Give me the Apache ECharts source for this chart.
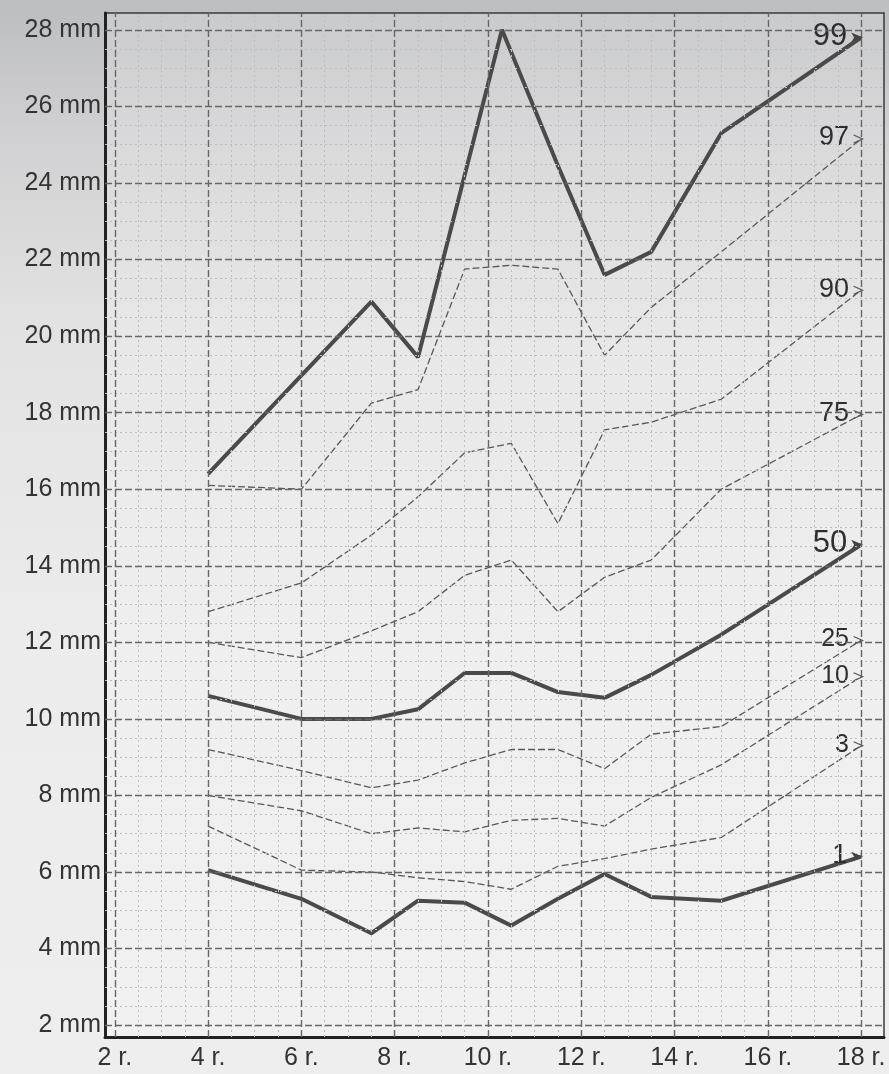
<!DOCTYPE html>
<html>
<head>
<meta charset="utf-8">
<script src="https://cdn.jsdelivr.net/npm/echarts@6/dist/echarts.min.js"></script>
<style>
  html, body { margin: 0; padding: 0; }
  #main { width: 889px; height: 1074px; }
</style>
</head>
<body>
<div id="main"></div>
<script>
// wiek (lata) w punktach pomiaru
const ages = [4, 6, 7.5, 8.5, 9.5, 10.5, 11.5, 12.5, 13.5, 15, 18];
const ages99 = [4, 7.5, 8.5, 10.3, 11.5, 12.5, 13.5, 15, 18];

// centyle (mm)
const p99 = [16.4, 20.9, 19.45, 28.0, 24.45, 21.6, 22.2, 25.3, 27.8];
const p97 = [16.1, 16.0, 18.25, 18.6, 21.75, 21.85, 21.75, 19.5, 20.75, 22.2, 25.15];
const p90 = [12.8, 13.55, 14.8, 15.8, 16.95, 17.2, 15.1, 17.55, 17.75, 18.35, 21.2];
const p75 = [12.0, 11.6, 12.3, 12.8, 13.75, 14.15, 12.8, 13.7, 14.15, 16.0, 17.95];
const p50 = [10.6, 10.0, 10.0, 10.25, 11.2, 11.2, 10.7, 10.55, 11.15, 12.2, 14.55];
const p25 = [9.2, 8.65, 8.2, 8.4, 8.85, 9.2, 9.2, 8.7, 9.6, 9.8, 12.05];
const p10 = [8.0, 7.6, 7.0, 7.15, 7.05, 7.35, 7.4, 7.2, 7.95, 8.8, 11.1];
const p3 = [7.2, 6.05, 6.0, 5.85, 5.75, 5.55, 6.15, 6.35, 6.6, 6.9, 9.3];
const p1 = [6.05, 5.3, 4.4, 5.25, 5.2, 4.6, 5.3, 5.95, 5.35, 5.25, 6.4];

// opisy osi
const xTicks = [2, 4, 6, 8, 10, 12, 14, 16, 18];
const yTicks = [2, 4, 6, 8, 10, 12, 14, 16, 18, 20, 22, 24, 26, 28];

const FONT = '"Liberation Sans", Arial, sans-serif';

// siatka pomocnicza co 0.5
const minorX = [];
for (let v = 2.5; v < 18.5; v += 0.5) if (v % 2 !== 0) minorX.push(v);
const minorY = [];
for (let v = 2.5; v < 28.4; v += 0.5) if (v % 2 !== 0) minorY.push(v);

const majorStyle = { color: '#676767', width: 1.4, type: [7, 3] };
const minorStyle = { color: '#bdbdbd', width: 1, type: [2, 3] };

const gridLines = []
    .concat(minorX.map(v => ({ xAxis: v, lineStyle: minorStyle })))
    .concat(minorY.map(v => ({ yAxis: v, lineStyle: minorStyle })))
    .concat(xTicks.map(v => ({ xAxis: v, lineStyle: majorStyle })))
    .concat(yTicks.map(v => ({ yAxis: v, lineStyle: majorStyle })));

function buildData(xs, ys, name, thick, fontSize) {
    return xs.map((x, i) => {
        const item = { value: [x, ys[i]] };
        if (i === xs.length - 1) {
            if (thick) {
                item.symbol = 'path://M0,0L12,5L0,10L3,5Z';
                item.symbolSize = [12, 10];
                item.symbolOffset = [-4, 0];
                item.itemStyle = { color: '#444' };
            } else {
                item.symbol = 'path://M0,0L10,5L0,10';
                item.symbolSize = [9, 8];
                item.symbolOffset = [-3, 0];
                item.itemStyle = { color: 'rgba(0,0,0,0)', borderColor: '#555', borderWidth: 1.2 };
            }
            item.label = {
                show: true,
                position: 'left',
                distance: 4,
                offset: [0, -1],
                formatter: name,
                fontSize: fontSize,
                fontFamily: FONT,
                color: '#2e2e2e'
            };
        }
        return item;
    });
}

function centile(name, xs, ys, thick, fontSize) {
    return {
        name: name,
        type: 'line',
        symbol: 'none',
        showSymbol: true,
        z: thick ? 4 : 3,
        lineStyle: thick
            ? { color: '#4a4a4a', width: 4 }
            : { color: '#585858', width: 1.3, type: [7, 3] },
        data: buildData(xs, ys, name, thick, fontSize)
    };
}

var myChart = echarts.init(document.getElementById('main'));

var option = {
    animation: false,
    backgroundColor: {
        type: 'linear', x: 0, y: 0, x2: 0, y2: 1,
        colorStops: [
            { offset: 0, color: '#bcbdbf' },
            { offset: 0.12, color: '#d0d0d2' },
            { offset: 0.3, color: '#e2e2e2' },
            { offset: 0.6, color: '#ececec' },
            { offset: 1, color: '#eeeeee' }
        ]
    },
    grid: {
        left: 105, right: 5, top: 13, bottom: 37,
        show: true,
        borderColor: '#3a3a3a',
        borderWidth: 1.5,
        backgroundColor: 'rgba(255,255,255,0.18)'
    },
    xAxis: {
        type: 'value',
        min: 1.79,
        max: 18.49,
        axisLine: { show: true, onZero: false, lineStyle: { color: '#222', width: 3 } },
        axisTick: { show: false, customValues: xTicks },
        splitLine: { show: false },
        axisLabel: {
            customValues: xTicks,
            formatter: v => v + ' r.',
            fontSize: 25,
            fontFamily: FONT,
            color: '#333',
            margin: 9
        }
    },
    yAxis: {
        type: 'value',
        min: 1.69,
        max: 28.44,
        axisLine: { show: true, onZero: false, lineStyle: { color: '#222', width: 3 } },
        axisTick: { show: false, customValues: yTicks },
        splitLine: { show: false },
        axisLabel: {
            customValues: yTicks,
            formatter: v => v + ' mm',
            fontSize: 25,
            fontFamily: FONT,
            color: '#333',
            margin: 4
        }
    },
    series: [
        {
            name: 'siatka',
            type: 'line',
            silent: true,
            symbol: 'none',
            z: 1,
            lineStyle: { opacity: 0 },
            data: [[xTicks[0], yTicks[0]]],
            markLine: {
                silent: true,
                symbol: ['none', 'none'],
                label: { show: false },
                animation: false,
                data: gridLines
            }
        },
        centile('97', ages, p97, false, 27),
        centile('90', ages, p90, false, 27),
        centile('75', ages, p75, false, 27),
        centile('25', ages, p25, false, 25),
        centile('10', ages, p10, false, 25),
        centile('3', ages, p3, false, 25),
        centile('99', ages99, p99, true, 31),
        centile('50', ages, p50, true, 31),
        centile('1', ages, p1, true, 27)
    ]
};

myChart.setOption(option);
</script>
</body>
</html>
